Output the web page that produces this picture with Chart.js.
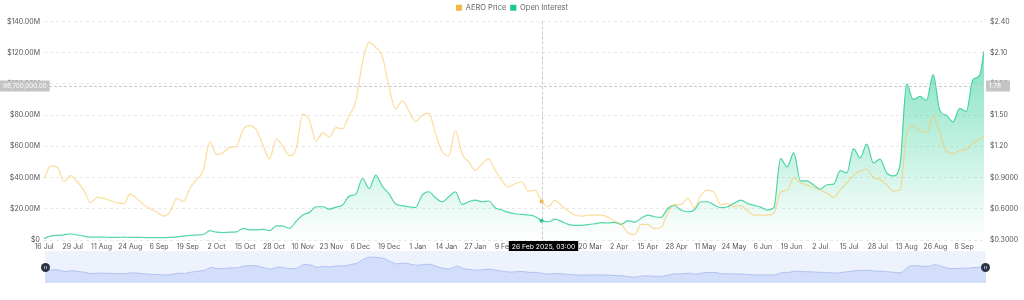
<!DOCTYPE html>
<html>
<head>
<meta charset="utf-8">
<script src="https://cdn.jsdelivr.net/npm/chart.js@4.4.1/dist/chart.umd.min.js"></script>
<style>
  body { margin: 0; background: #fff; }
  #wrap { position: relative; width: 1024px; height: 300px; overflow: hidden; }
  #main { position: absolute; left: 0; top: 0; }
  #zoom { position: absolute; left: 45px; top: 251px; background: #eef2fd; }
  .handle { position: absolute; top: 263px; width: 9px; height: 9px; border-radius: 50%; background: #2b3446; }
  .handle::after { content: ''; position: absolute; left: 3px; top: 3px; width: 3px; height: 3px; border-left: 1px solid #9aa3b5; border-right: 1px solid #9aa3b5; box-sizing: border-box; }
</style>
</head>
<body>
<div id="wrap">
  <canvas id="main" width="1024" height="300"></canvas>
  <canvas id="zoom" width="941" height="32"></canvas>
  <div class="handle" style="left:41px"></div>
  <div class="handle" style="left:981px"></div>
</div>
<script>
// one sample every 3 days from 16 Jul 2024, last sample is the final day
const STEP = 3;
const LAST_DAY = 425;

// AERO price, USD
const price = [
  0.89, 1.01, 1.00, 0.86, 0.92, 0.86, 0.78, 0.66, 0.71, 0.70, 0.68, 0.66,
  0.65, 0.74, 0.70, 0.64, 0.60, 0.57, 0.53, 0.57, 0.70, 0.67, 0.80, 0.88,
  0.97, 1.24, 1.12, 1.14, 1.19, 1.20, 1.36, 1.40, 1.36, 1.21, 1.08, 1.27,
  1.20, 1.11, 1.18, 1.51, 1.45, 1.25, 1.33, 1.29, 1.38, 1.37, 1.50, 1.63,
  2.01, 2.20, 2.15, 2.06, 1.77, 1.56, 1.64, 1.54, 1.44, 1.50, 1.52, 1.32,
  1.15, 1.11, 1.35, 1.13, 1.05, 0.97, 1.03, 1.08, 0.97, 0.87, 0.81, 0.84,
  0.86, 0.77, 0.78, 0.67, 0.62, 0.68, 0.63, 0.58, 0.54, 0.53, 0.54, 0.54,
  0.54, 0.52, 0.48, 0.45, 0.37, 0.35, 0.45, 0.45, 0.41, 0.42, 0.56, 0.64,
  0.64, 0.70, 0.61, 0.73, 0.78, 0.76, 0.64, 0.65, 0.62, 0.63,
  0.58, 0.54, 0.54, 0.54, 0.56, 0.76, 0.78, 0.90, 0.85, 0.83, 0.80, 0.78,
  0.75, 0.71, 0.78, 0.85, 0.92, 0.96, 0.98, 0.90, 0.88, 0.83, 0.77, 0.78,
  1.32, 1.40, 1.35, 1.33, 1.49, 1.33, 1.15, 1.13, 1.16, 1.17, 1.23, 1.27,
  1.30
];

// open interest, $M
const openInterest = [
  1.0, 2.5, 3.0, 3.3, 4.0, 3.2, 2.5, 1.8, 1.8, 1.8, 1.7, 1.7,
  1.8, 1.7, 1.7, 1.6, 1.5, 1.5, 1.5, 1.7, 2.0, 2.5, 3.0, 3.2,
  3.5, 6.0, 5.0, 4.8, 5.0, 5.2, 7.5, 6.5, 6.5, 6.8, 6.0, 9.0,
  8.9, 7.5, 12.0, 16.0, 17.7, 21.3, 21.3, 19.8, 21.1, 22.4, 28.1, 29.4,
  39.4, 33.0, 41.6, 34.3, 29.6, 23.0, 22.0, 21.3, 20.9, 28.8, 30.9, 27.1,
  24.5, 27.7, 30.9, 22.8, 24.5, 25.6, 24.5, 25.0, 20.7, 19.2, 17.7, 16.8,
  16.4, 16.0, 15.1, 12.4, 11.7, 13.4, 11.9, 10.0, 9.4, 9.4, 9.8, 10.4,
  11.1, 10.9, 11.3, 10.0, 12.4, 11.5, 13.9, 16.0, 14.9, 14.5, 20.2, 22.2,
  19.2, 18.1, 19.2, 24.5, 24.5, 22.4, 20.7, 21.3, 23.5, 25.6,
  23.5, 22.2, 21.1, 19.2, 20.7, 52.2, 46.9, 56.0, 37.9, 37.9, 35.2, 32.6,
  35.4, 35.8, 44.5, 43.0, 58.6, 52.6, 61.4, 49.4, 51.8, 43.0, 41.1, 48.0,
  100.0, 90.1, 92.0, 89.5, 106.0, 83.1, 79.9, 75.7, 84.2, 82.5, 102.7, 105.5,
  121.0
];

// one label every 13 days
const tickLabels = [
  '16 Jul', '29 Jul', '11 Aug', '24 Aug', '6 Sep', '19 Sep', '2 Oct', '15 Oct',
  '28 Oct', '10 Nov', '23 Nov', '6 Dec', '19 Dec', '1 Jan', '14 Jan', '27 Jan',
  '9 Feb', '22 Feb', '7 Mar', '20 Mar', '2 Apr', '15 Apr', '28 Apr', '11 May',
  '24 May', '6 Jun', '19 Jun', '2 Jul', '15 Jul', '28 Jul', '13 Aug', '26 Aug', '8 Sep'
];
const TICK_EVERY = 13;
const oiTicks = [0, 20, 40, 60, 80, 100, 120, 140];
const priceTicks = [0.3, 0.6, 0.9, 1.2, 1.5, 1.8, 2.1, 2.4];

// hovered point
const CROSS_DAY = 225;
const CROSS_OI = 98.7;
const CROSS_LABEL = '26 Feb 2025, 03:00';

const seriesNames = ['AERO Price', 'Open Interest'];
const legendColors = ['#f3b843', '#19c98a'];

const dayOf = i => (i === price.length - 1 ? LAST_DAY : i * STEP);
const pricePts = price.map((v, i) => ({ x: dayOf(i), y: v }));
const oiPts = openInterest.map((v, i) => ({ x: dayOf(i), y: v }));

Chart.defaults.font.family = 'Inter, "Noto Sans", sans-serif';
Chart.defaults.font.size = 7;
Chart.defaults.color = '#5f5f5f';

function oiFill(ctx) {
  const { chart } = ctx;
  const area = chart.chartArea;
  if (!area) return 'rgba(25,201,138,0.2)';
  const g = chart.ctx.createLinearGradient(0, area.top + 25, 0, area.bottom);
  g.addColorStop(0, 'rgba(25,201,138,0.55)');
  g.addColorStop(1, 'rgba(25,201,138,0.0)');
  return g;
}

const markerRadius = ctx => (ctx.raw && ctx.raw.x === CROSS_DAY ? 2 : 0);

function drawTag(ctx, text, x, y, bg, color, size, minW = 0) {
  ctx.font = size + 'px Inter, "Noto Sans", sans-serif';
  const w = Math.max(ctx.measureText(text).width + 6, minW);
  ctx.fillStyle = bg;
  ctx.fillRect(x, y, w, 11);
  ctx.fillStyle = color;
  ctx.textAlign = 'left';
  ctx.textBaseline = 'middle';
  ctx.fillText(text, x + 3, y + 5.5);
  return w;
}

const crosshair = {
  id: 'crosshair',
  afterDraw(chart) {
    const { ctx, chartArea: a, scales } = chart;
    const px = Math.round(scales.x.getPixelForValue(CROSS_DAY)) + 0.5;
    const py = Math.round(scales.y.getPixelForValue(CROSS_OI)) + 0.5;
    ctx.save();
    ctx.setLineDash([3, 2]);
    ctx.strokeStyle = '#c9c9c9';
    ctx.lineWidth = 1;
    ctx.beginPath();
    ctx.moveTo(px, a.top);
    ctx.lineTo(px, a.bottom);
    ctx.moveTo(a.left, py);
    ctx.lineTo(a.right, py);
    ctx.stroke();
    ctx.setLineDash([]);

    const left = (CROSS_OI * 1e6).toLocaleString('en-US', { minimumFractionDigits: 2, maximumFractionDigits: 2 });
    drawTag(ctx, left, 0, py - 6, '#c4c4c4', '#fff', 6.3);
    const right = scales.y1.getValueForPixel(py).toFixed(2);
    drawTag(ctx, right, a.right + 2, py - 6, '#c4c4c4', '#fff', 6.5, 24);

    ctx.font = '6.8px Inter, "Noto Sans", sans-serif';
    const w = ctx.measureText(CROSS_LABEL).width + 6;
    drawTag(ctx, CROSS_LABEL, px - w / 2 + 1, a.bottom + 1, '#000', '#fff', 6.8);
    ctx.restore();
  }
};

new Chart(document.getElementById('main'), {
  type: 'line',
  data: {
    datasets: [
      {
        label: seriesNames[0],
        data: pricePts,
        yAxisID: 'y1',
        borderColor: 'rgba(250,196,90,0.6)',
        backgroundColor: legendColors[0],
        borderWidth: 1.2,
        tension: 0.4,
        cubicInterpolationMode: 'monotone',
        pointRadius: markerRadius,
        pointBackgroundColor: '#f3b843',
        pointBorderWidth: 0,
        fill: false
      },
      {
        label: seriesNames[1],
        data: oiPts,
        yAxisID: 'y',
        borderColor: 'rgba(25,201,138,0.75)',
        backgroundColor: oiFill,
        borderWidth: 1.2,
        tension: 0.4,
        cubicInterpolationMode: 'monotone',
        pointRadius: markerRadius,
        pointBackgroundColor: '#19c98a',
        pointBorderWidth: 0,
        fill: 'start'
      }
    ]
  },
  options: {
    responsive: false,
    animation: false,
    events: [],
    layout: { padding: { left: 0, right: 0, top: 0, bottom: 44 } },
    plugins: {
      tooltip: { enabled: false },
      legend: {
        position: 'top',
        align: 'center',
        labels: {
          boxWidth: 6,
          boxHeight: 6,
          padding: 4,
          font: { size: 7.5 },
          color: '#666',
          generateLabels(chart) {
            return Chart.defaults.plugins.legend.labels.generateLabels(chart).map((item, i) => {
              item.fillStyle = legendColors[i];
              item.strokeStyle = legendColors[i];
              item.lineWidth = 0;
              return item;
            });
          }
        }
      }
    },
    scales: {
      x: {
        type: 'linear',
        min: 0,
        max: LAST_DAY,
        grid: { display: false, drawTicks: false },
        border: { display: false },
        afterBuildTicks(scale) {
          scale.ticks = tickLabels.map((_, i) => ({ value: i * TICK_EVERY }));
        },
        afterFit(scale) { scale.height = 16; },
        ticks: {
          autoSkip: false,
          maxRotation: 0,
          padding: 3,
          color: '#555',
          callback: v => tickLabels[Math.round(v / TICK_EVERY)]
        }
      },
      y: {
        position: 'left',
        min: 0,
        max: 140,
        afterBuildTicks(scale) {
          scale.ticks = oiTicks.map(v => ({ value: v }));
        },
        afterFit(scale) { scale.width = 44; },
        grid: { color: '#e9e9e9', drawTicks: false },
        border: { display: false, dash: [3, 3] },
        ticks: {
          padding: 4,
          color: '#555',
          callback: v => (v === 0 ? '$0' : '$' + v.toFixed(2) + 'M')
        }
      },
      y1: {
        position: 'right',
        min: 0.3,
        max: 2.4,
        afterBuildTicks(scale) {
          scale.ticks = priceTicks.map(v => ({ value: v }));
        },
        afterFit(scale) { scale.width = 40; },
        grid: { display: false, drawTicks: false },
        border: { display: false },
        ticks: {
          padding: 6,
          color: '#555',
          callback: v => '$' + (v >= 1 ? v.toFixed(2) : v.toFixed(4))
        }
      }
    }
  },
  plugins: [crosshair]
});

// data-zoom strip under the axis, drawn from the price series
const lo = Math.min(...price);
const hi = Math.max(...price);
const pad = (hi - lo) * 0.3;

new Chart(document.getElementById('zoom'), {
  type: 'line',
  data: {
    datasets: [{
      data: pricePts,
      borderColor: 'rgba(170,190,240,0.9)',
      backgroundColor: 'rgba(190,206,248,0.55)',
      borderWidth: 1,
      tension: 0.3,
      pointRadius: 0,
      fill: 'start'
    }]
  },
  options: {
    responsive: false,
    animation: false,
    events: [],
    layout: { padding: 0 },
    plugins: { legend: { display: false }, tooltip: { enabled: false } },
    scales: {
      x: { type: 'linear', min: 0, max: LAST_DAY, display: false },
      y: { min: lo - pad, max: hi + pad, display: false }
    }
  }
});
</script>
</body>
</html>
